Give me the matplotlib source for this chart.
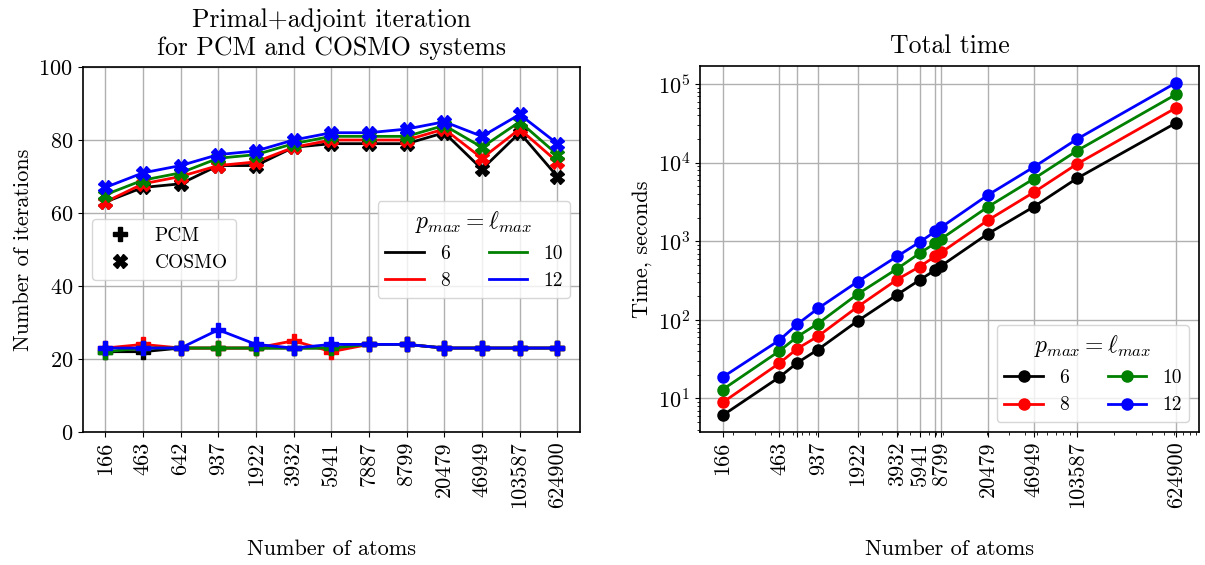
import numpy as np
import matplotlib
matplotlib.use("Agg")
import matplotlib.pyplot as plt
from matplotlib.lines import Line2D
from matplotlib.ticker import NullFormatter

plt.rcParams['font.family'] = ['cmr10', 'DejaVu Sans']
plt.rcParams['mathtext.fontset'] = 'cm'
plt.rcParams['axes.formatter.use_mathtext'] = True
plt.rcParams['axes.unicode_minus'] = False

atoms = [166, 463, 642, 937, 1922, 3932, 5941, 7887, 8799, 20479, 46949, 103587, 624900]
# labels on the log axis (two are left blank in the original)
time_labels = ["166", "463", "", "937", "1922", "3932", "5941", "", "8799",
               "20479", "46949", "103587", "624900"]
lmax = [6, 8, 10, 12]
colors = ["black", "red", "green", "blue"]

# iterations, COSMO
cosmo_6 = [63, 67, 68, 73, 73, 78, 79, 79, 79, 82, 72, 82, 70]
cosmo_8 = [63, 68, 70, 73, 74, 78, 80, 80, 80, 83, 75, 83, 74]
cosmo_10 = [65, 69, 71, 75, 76, 79, 81, 81, 81, 84, 78, 85, 76]
cosmo_12 = [67, 71, 73, 76, 77, 80, 82, 82, 83, 85, 81, 87, 79]

# iterations, PCM
pcm_6 = [22, 22, 23, 23, 23, 23, 23, 24, 24, 23, 23, 23, 23]
pcm_8 = [23, 24, 23, 23, 23, 25, 22, 24, 24, 23, 23, 23, 23]
pcm_10 = [22, 23, 23, 23, 23, 23, 23, 24, 24, 23, 23, 23, 23]
pcm_12 = [23, 23, 23, 28, 24, 23, 24, 24, 24, 23, 23, 23, 23]

# total time, seconds
time_6 = [6.1, 18.6, 28.4, 42, 97, 209, 323, 433, 490, 1250, 2750, 6370, 32300]
time_8 = [8.9, 28, 43, 62, 147, 326, 478, 646, 725, 1860, 4200, 9700, 50200]
time_10 = [13, 40, 61, 90, 213, 447, 708, 950, 1080, 2750, 6240, 14300, 74500]
time_12 = [18.7, 55, 88, 140, 307, 643, 980, 1340, 1520, 3890, 8800, 20100, 104700]

cosmo = [cosmo_6, cosmo_8, cosmo_10, cosmo_12]
pcm = [pcm_6, pcm_8, pcm_10, pcm_12]
times = [time_6, time_8, time_10, time_12]

fs = 16

fig = plt.figure(figsize=(12.05, 5.65), dpi=100)
ax1 = fig.add_axes([0.0686, 0.2354, 0.4127, 0.6460])
ax2 = fig.add_axes([0.5809, 0.2354, 0.4141, 0.6478])

x = np.arange(len(atoms))
for c, y in zip(colors, pcm):
    ax1.plot(x, y, color=c, marker="P", markersize=10, lw=2)
for c, y in zip(colors, cosmo):
    ax1.plot(x, y, color=c, marker="X", markersize=10, lw=2)

ax1.set_ylim(0, 100)
ax1.set_xticks(x)
ax1.set_xticklabels([str(a) for a in atoms], rotation=90)
ax1.grid(True, lw=1)
ax1.set_axisbelow(True)
ax1.set_title("Primal+adjoint iteration\nfor PCM and COSMO systems", fontsize=18.5, pad=9)
ax1.set_xlabel("Number of atoms", fontsize=fs, labelpad=22)
ax1.set_ylabel("Number of iterations", fontsize=fs)
ax1.tick_params(labelsize=fs)

mk = [Line2D([], [], color="black", marker="P", markersize=10, ls=""),
      Line2D([], [], color="black", marker="X", markersize=10, ls="")]
leg1 = ax1.legend(mk, ["PCM", "COSMO"], loc="center left", fontsize=14)
ax1.add_artist(leg1)
ln = [Line2D([], [], color=c, lw=2) for c in colors]
ax1.legend(ln, [str(l) for l in lmax], loc="center right", ncol=2,
           title=r"$p_{max}=\ell_{max}$", fontsize=14, title_fontsize=17)

for c, y, l in zip(colors, times, lmax):
    ax2.plot(atoms, y, color=c, marker="o", markersize=8, lw=2, label=str(l))
ax2.set_xscale("log")
ax2.set_yscale("log")
ax2.set_xticks(atoms)
ax2.set_xticklabels(time_labels, rotation=90)
ax2.xaxis.set_minor_formatter(NullFormatter())
ax2.grid(True, lw=1)
ax2.set_axisbelow(True)
ax2.set_title("Total time", fontsize=18.5, pad=9)
ax2.set_xlabel("Number of atoms", fontsize=fs, labelpad=22)
ax2.set_ylabel("Time, seconds", fontsize=fs)
ax2.tick_params(labelsize=fs)
ax2.legend(loc="lower right", ncol=2, title=r"$p_{max}=\ell_{max}$",
           fontsize=14, title_fontsize=17)

for ax in (ax1, ax2):
    for s in ax.spines.values():
        s.set_linewidth(1.2)

fig.savefig("out.png", dpi=100)
